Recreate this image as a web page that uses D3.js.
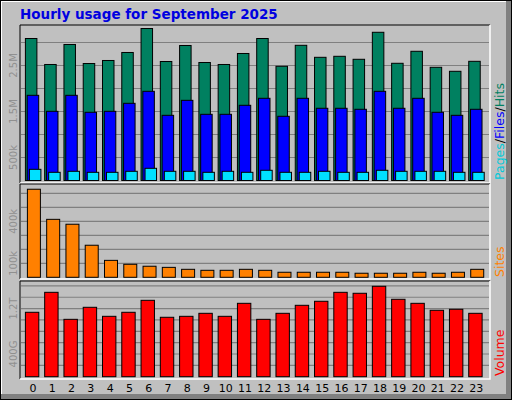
<!DOCTYPE html>
<html><head><meta charset="utf-8">
<script src="https://cdn.jsdelivr.net/npm/d3@7"></script>
<style>body{margin:0;background:#fff}svg{display:block}text{font-family:"DejaVu Sans",sans-serif}</style>
</head><body><svg id="c" width="512" height="400"></svg>
<script>
// hourly values
const hours = d3.range(24);
const hits  = [3087,2522,2957,2543,2609,2783,3304,2587,2935,2565,2522,2761,3087,2483,2939,2678,2700,2635,3222,2548,2809,2461,2374,2591].map(v => v*1000);
const files = [1852,1504,1852,1483,1504,1678,1939,1417,1743,1439,1439,1635,1787,1396,1787,1570,1570,1548,1939,1570,1787,1483,1417,1548].map(v => v*1000);
const pages = [243,178,200,178,178,200,265,200,200,178,200,178,222,178,178,200,178,178,222,200,200,200,178,178].map(v => v*1000);
const sites = [629,414,379,229,121,93,79,71,57,50,50,57,50,36,36,36,36,29,29,29,36,29,36,57].map(v => v*1000);
const volume = [1135,1487,1011,1223,1064,1135,1346,1047,1064,1117,1064,1293,1011,1117,1258,1329,1487,1470,1593,1364,1293,1170,1188,1117]; // GB

const svg = d3.select('#c');

// frame
svg.append('rect').attr('x',0).attr('y',0).attr('width',512).attr('height',400).attr('fill','#000');
svg.append('rect').attr('x',1).attr('y',1).attr('width',510).attr('height',398).attr('fill','#808080');
svg.append('rect').attr('x',1).attr('y',1).attr('width',505).attr('height',393).attr('fill','#fff');
svg.append('rect').attr('x',2).attr('y',2).attr('width',504).attr('height',392).attr('fill','#c0c0c0');

svg.append('text').attr('x',20).attr('y',19).text('Hourly usage for September 2025')
  .attr('fill','#0000e0').attr('font-weight','bold').attr('font-size',13.5);

const x = d3.scaleBand().domain(hours).range([23.4,486]);

function panel(y0, y1, base, ticks, y, labels){
    svg.append('rect').attr('x',20).attr('y',y0).attr('width',470).attr('height',y1-y0).attr('fill','#c0c0c0');
    ticks.forEach(t => svg.append('line').attr('x1',21).attr('x2',489)
        .attr('y1',y(t)).attr('y2',y(t)).attr('stroke','#808080').attr('stroke-width',1.2));
    svg.append('path').attr('d',`M20,${y1}V${y0}H490`).attr('stroke','#000').attr('fill','none');
    svg.append('path').attr('d',`M490,${y0}V${y1}H20`).attr('stroke','#fff').attr('fill','none').attr('stroke-width',1.5);
    labels.forEach(l => svg.append('text').attr('transform',`translate(17,${y(l[0])}) rotate(-90)`)
        .attr('text-anchor','middle').attr('font-size',10).attr('fill','#909090').text(l[1]));
}

function bars(data, y, dx, w, color){
    svg.append('g').selectAll('rect').data(data).join('rect')
      .attr('x',(d,i) => x(i)+dx).attr('width',w)
      .attr('y',d => y(d)).attr('height',d => y(0)-y(d))
      .attr('fill',color).attr('stroke','#000').attr('stroke-width',1);
}

// top: hits/files/pages
const y1 = d3.scaleLinear().domain([0,500000]).range([180.5,157.5]);
panel(25,183,180.5,d3.range(1,7).map(i=>i*500000),y1,[[500000,'500k'],[1500000,'1.5M'],[2500000,'2.5M']]);
bars(hits,y1,2,11.5,'#008060');
bars(files,y1,3.8,11.5,'#0000ff');
bars(pages,y1,6,11.5,'#00e0ff');

// middle: sites
const y2 = d3.scaleLinear().domain([0,100000]).range([277.3,263.3]);
panel(184,279,277.3,d3.range(1,7).map(i=>i*100000),y2,[[100000,'100k'],[400000,'400k']]);
bars(sites,y2,4,13,'#ff8000');

// bottom: volume
const y3 = d3.scaleLinear().domain([0,200]).range([376.7,365.35]);
panel(281,379,376.7,d3.range(1,9).map(i=>i*200),y3,[[400,'400G'],[1200,'1.2T']]);
bars(volume,y3,2,13.4,'#ff0000');

// hour labels
svg.append('g').selectAll('text').data(hours).join('text')
  .attr('x',h => x(h)+x.bandwidth()/2).attr('y',392).attr('text-anchor','middle')
  .attr('font-size',11).attr('fill','#000').text(h => h);

// right side legends
const r1 = svg.append('text').attr('transform','translate(504,180) rotate(-90)').attr('font-size',12.5);
r1.append('tspan').attr('fill','#00c8d8').text('Pages');
r1.append('tspan').attr('fill','#000').text('/');
r1.append('tspan').attr('fill','#0000ff').text('Files');
r1.append('tspan').attr('fill','#000').text('/');
r1.append('tspan').attr('fill','#008060').text('Hits');
svg.append('text').attr('transform','translate(504,277) rotate(-90)').attr('font-size',12.5).attr('fill','#ff8000').text('Sites');
svg.append('text').attr('transform','translate(504,376) rotate(-90)').attr('font-size',12.5).attr('fill','#ff0000').text('Volume');
</script></body></html>
